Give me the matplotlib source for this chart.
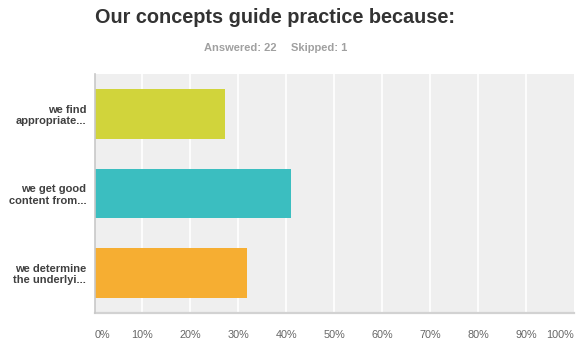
import matplotlib.pyplot as plt

plt.rcParams['font.family'] = ['Liberation Sans', 'DejaVu Sans']

# Survey answers (share of respondents, %)
answers = ["we find\nappropriate...", "we get good\ncontent from...", "we determine\nthe underlyi..."]
shares = [27.27, 40.91, 31.82]
colors = ["#d1d43b", "#3bbec0", "#f6ae32"]
ticks = [0, 10, 20, 30, 40, 50, 60, 70, 80, 90, 100]
tick_labels = [f"{t}%" for t in ticks]

fig = plt.figure(figsize=(5.8, 3.46), dpi=100)
ax = fig.add_axes([94.5 / 580, 1 - 313 / 346, (574 - 94.5) / 580, (313 - 74) / 346])
ax.set_facecolor("#efefef")

pos = list(range(len(answers)))
ax.barh(pos, shares, height=0.625, color=colors, zorder=3)

ax.set_xlim(0, 100)
ax.set_ylim(len(answers) - 0.5, -0.5)

# white vertical grid
for t in ticks[1:-1]:
    ax.axvline(t, color="white", lw=1.2, zorder=1)

ax.set_xticks(ticks)
ax.set_xticklabels(tick_labels, fontsize=7.8, color="#666666")
xl = ax.get_xticklabels()
xl[0].set_horizontalalignment("left")
xl[-1].set_horizontalalignment("right")
ax.tick_params(axis="x", length=0, pad=12)

ax.set_yticks(pos)
ax.set_yticklabels(answers, fontsize=8, fontweight="bold", color="#404040",
                   linespacing=1.15)
ax.tick_params(axis="y", length=0, pad=6)

for s in ["top", "right"]:
    ax.spines[s].set_visible(False)
ax.spines["left"].set_color("#c8c8c8")
ax.spines["left"].set_linewidth(1.2)
ax.spines["bottom"].set_color("#d2d2d2")
ax.spines["bottom"].set_linewidth(1.6)
ax.spines["left"].set_zorder(4)

fig.text(95 / 580, 1 - 23 / 346, "Our concepts guide practice because:",
         fontsize=14.35, fontweight="bold", color="#333333", va="baseline")
fig.text(277 / 580, 1 - 51 / 346, "Answered: 22", fontsize=8, fontweight="bold",
         color="#a0a0a0", ha="right", va="baseline")
fig.text(291 / 580, 1 - 51 / 346, "Skipped: 1", fontsize=8, fontweight="bold",
         color="#a0a0a0", ha="left", va="baseline")

fig.savefig("out.png", dpi=100, facecolor="white")
